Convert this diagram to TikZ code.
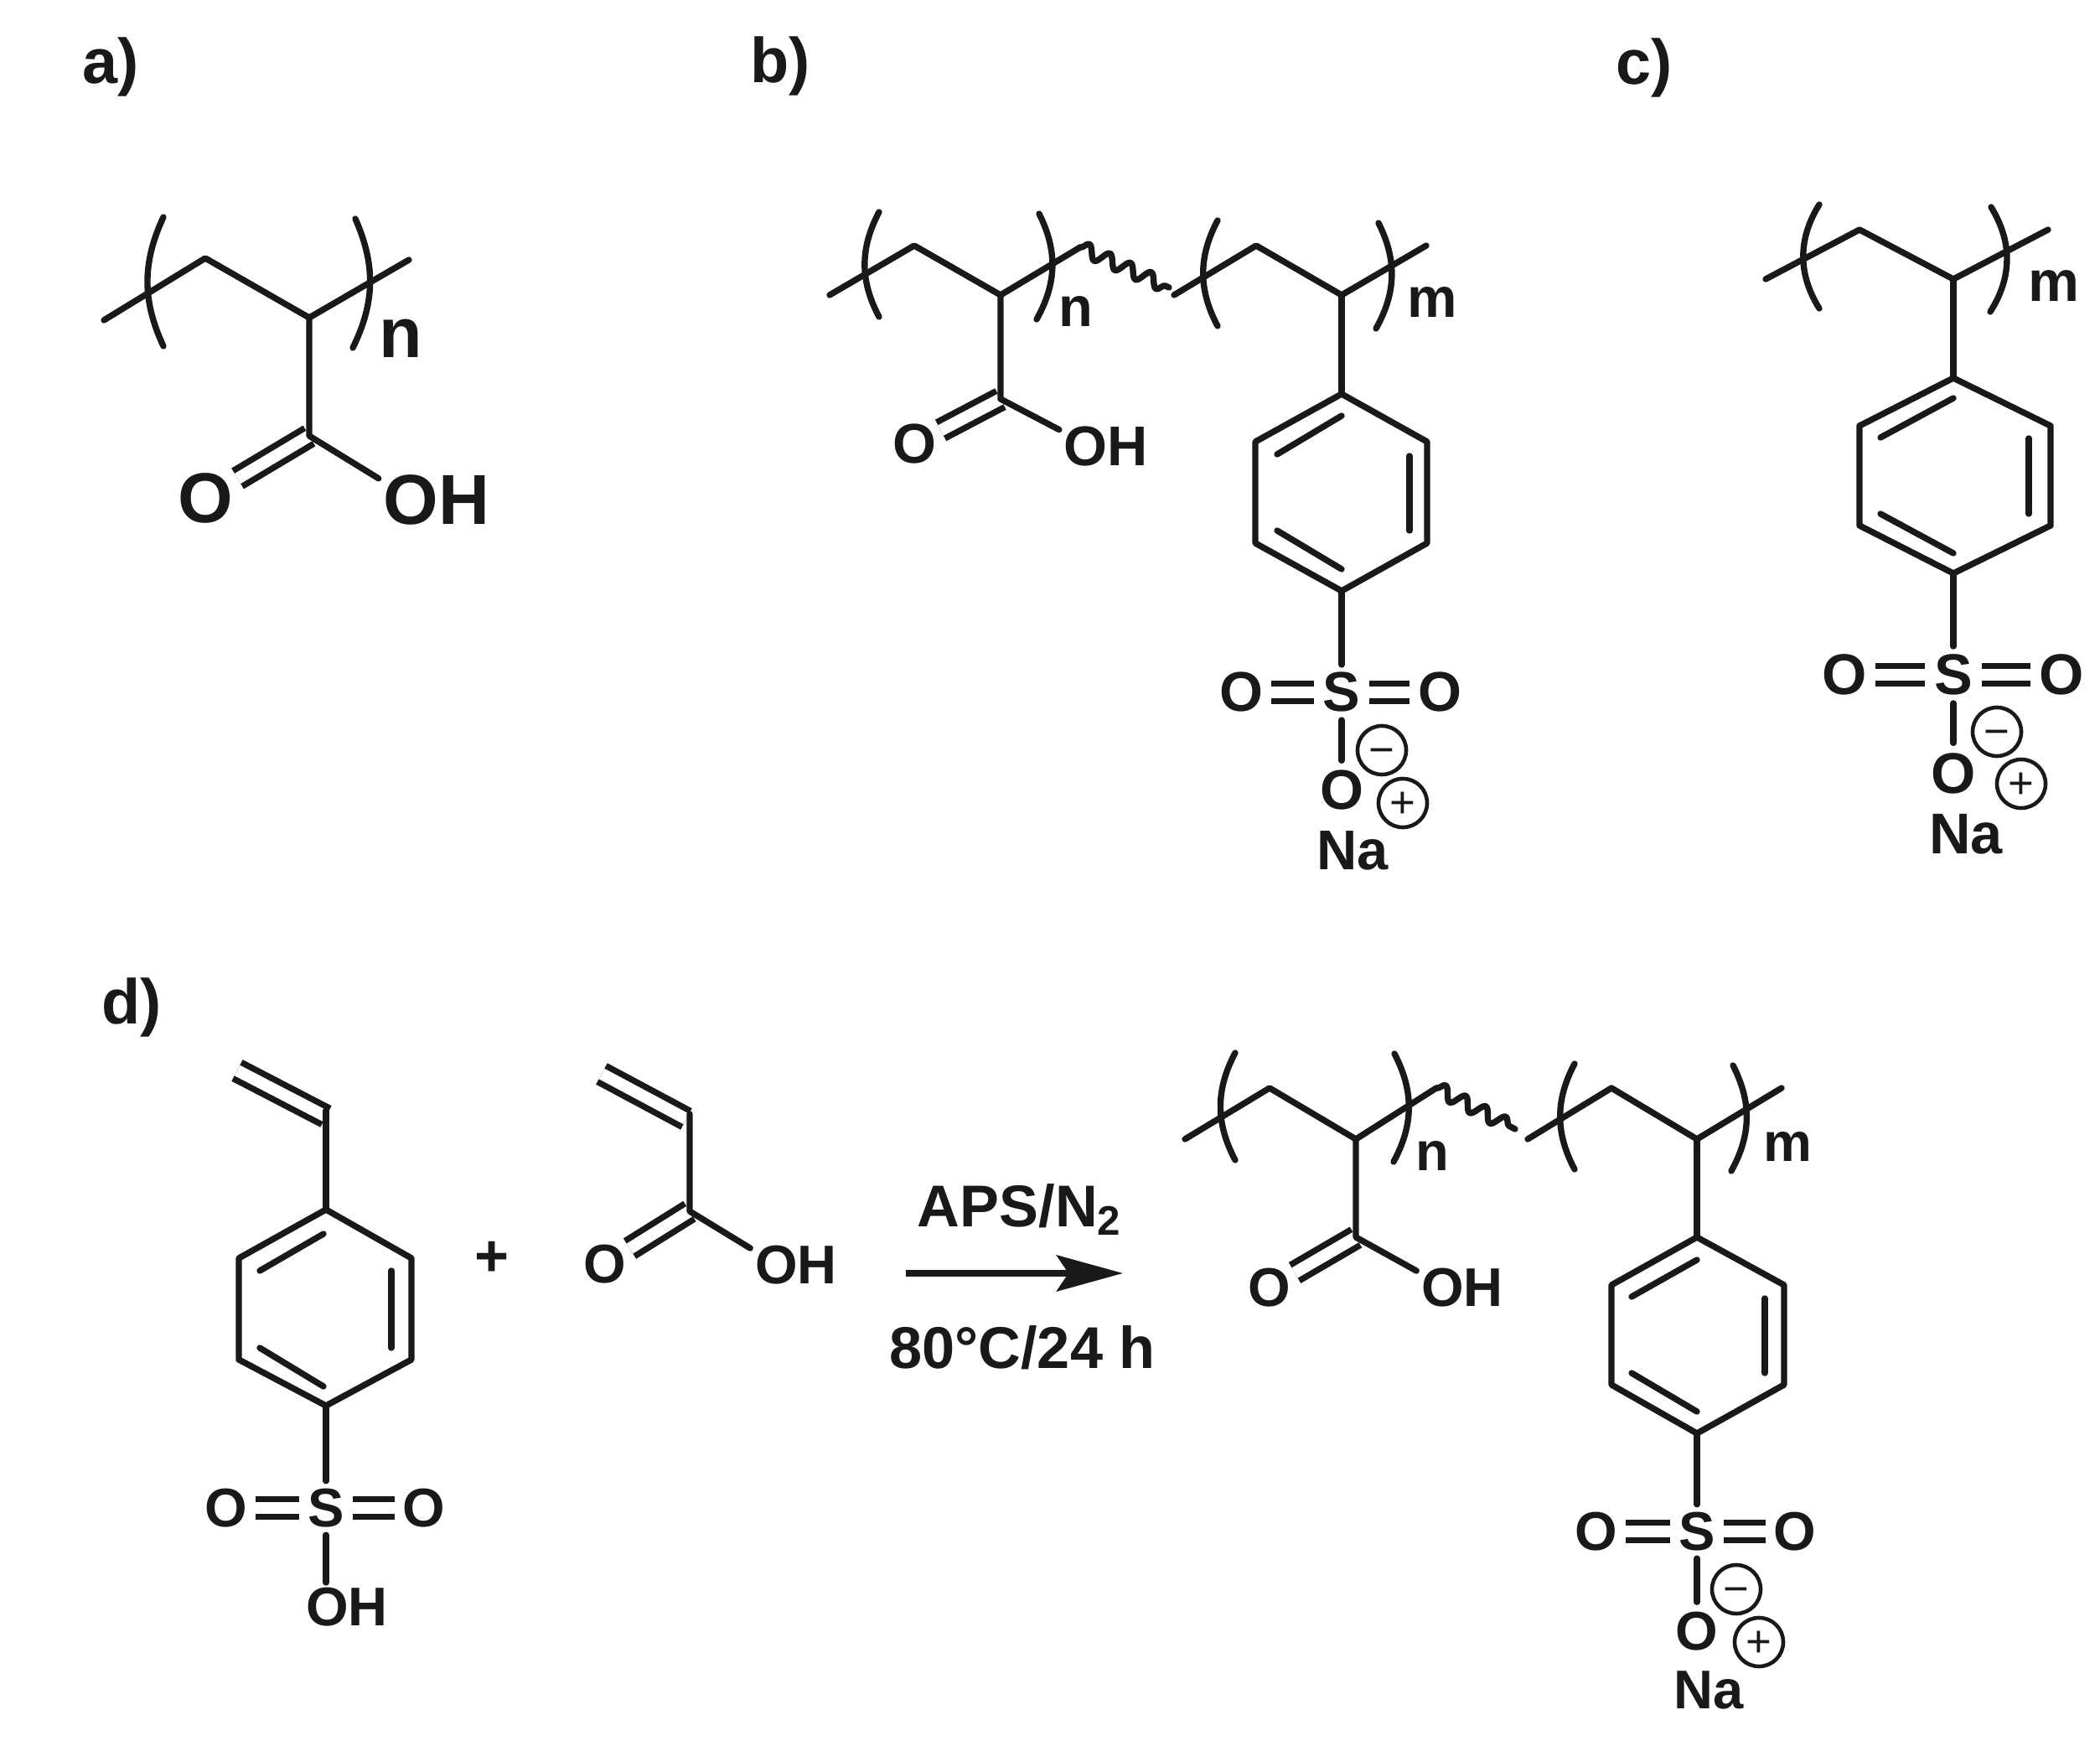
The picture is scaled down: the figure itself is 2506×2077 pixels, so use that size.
\documentclass[tikz,border=0pt]{standalone}
\usepackage{fontspec}
\setmainfont{Liberation Sans}
\usetikzlibrary{positioning,arrows.meta,decorations.pathmorphing}

\tikzset{
	bond/.style = {line width=2.1pt, line cap=round, line join=round, color=black!90},
	dbl/.style = {line width=2.1pt, double=white, double distance=4pt, color=black!90},
	arc/.style = {bond, line cap=round},
	wave/.style = {bond, decorate, decoration={snake, segment length=0.27cm, amplitude=0.08cm}},
	every node/.style = {inner sep=0pt, text=black!90, font=\bfseries},
	atom/.style = {shape=circle, font=\bfseries\fontsize{#1}{#1}\selectfont},
	group/.style = {shape=rectangle, inner sep=1.5pt, font=\bfseries\fontsize{#1}{#1}\selectfont},
	label/.style = {font=\bfseries\fontsize{21.5}{21.5}\selectfont},
	charge/.style = {shape=circle, draw=black!90, line width=1.3pt, minimum size=0.58cm,
		text height=10pt, text depth=0pt, font=\fontsize{15}{15}\selectfont}
}

\begin{document}
\begin{tikzpicture}[x=0.01cm, y=-0.01cm]
	\useasboundingbox (0,0) rectangle (2506,2077);

	\node[label] (la) at (132,80) {a)};
	\node[label] (lb) at (931,79) {b)};
	\node[label] (lc) at (1962,81) {c)};
	\node[label] (ld) at (157,1202) {d)};

	% a)
	\foreach \nm/\xx/\yy in {a1/124/382, a2/245/308, a3/369/379, a4/488/310, aC/369/520,
		aL1/195/259, aL2/195/413, aR1/424/261, aR2/421/415}
		\coordinate (\nm) at (\xx,\yy);
	\node[atom=24] (aO) at (245,594) {O};
	\node[group=24] (aOH) at (521,596) {OH};
	\node[group=24] (an) at (478,404) {n};
	\draw[dbl] (aC) -- (aO);
	\draw[bond] (a1) -- (a2) -- (a3) -- (a4);
	\draw[bond] (a3) -- (aC) -- (aOH.160);
	\draw[arc] (aL1) to[bend right=25] (aL2);
	\draw[arc] (aR1) to[bend left=25] (aR2);

	% b)
	\foreach \nm/\xx/\yy in {b1/990/352, b2/1091/293, b3/1194/352, b4/1289/295, b5/1395/343,
		b6/1401/352, b7/1499/293, b8/1601/352, b9/1702/293, bC/1194/476,
		bL1/1049/253, bL2/1049/378, bR1/1240/255, bR2/1237/381,
		bL3/1453/263, bL4/1453/389, bR3/1645/266, bR4/1642/392,
		bA/1601/470, bB/1703/527, bD/1703/648, bE/1601/705, bF/1498/648, bG/1498/527,
		bi1/1601/496, bi2/1524/542, bi3/1682/544, bi4/1682/633, bi5/1524/633, bi6/1601/679}
		\coordinate (\nm) at (\xx,\yy);
	\node[atom=19] (bO) at (1091,530) {O};
	\node[group=19] (bOH) at (1320,533) {OH};
	\node[group=19] (bn) at (1284,372) {n};
	\node[group=19] (bm) at (1709,361) {m};
	\node[atom=19] (bS) at (1601,826) {S};
	\node[atom=19] (bO1) at (1481,826) {O};
	\node[atom=19] (bO2) at (1718,826) {O};
	\node[atom=19] (bO3) at (1601,943) {O};
	\node[group=19] (bNa) at (1614,1015) {Na};
	\node[charge] (bMinus) at (1649,895) {−};
	\node[charge] (bPlus) at (1674,958) {+};
	\draw[dbl] (bC) -- (bO);
	\draw[dbl] (bS) -- (bO1);
	\draw[dbl] (bS) -- (bO2);
	\draw[bond] (b1) -- (b2) -- (b3) -- (b4);
	\draw[wave] (b4) -- (b5);
	\draw[bond] (b6) -- (b7) -- (b8) -- (b9);
	\draw[bond] (b3) -- (bC) -- (bOH.160);
	\draw[bond] (b8) -- (bA);
	\draw[bond] (bA) -- (bB) -- (bD) -- (bE) -- (bF) -- (bG) -- cycle;
	\draw[bond] (bi1) -- (bi2);
	\draw[bond] (bi3) -- (bi4);
	\draw[bond] (bi5) -- (bi6);
	\draw[bond] (bE) -- (bS);
	\draw[bond] (bS) -- (bO3);
	\foreach \p/\q in {bL1/bL2, bL3/bL4}
		\draw[arc] (\p) to[bend right=28] (\q);
	\foreach \p/\q in {bR1/bR2, bR3/bR4}
		\draw[arc] (\p) to[bend left=28] (\q);

	% c)
	\foreach \nm/\xx/\yy in {c1/2107/333, c2/2219/274, c3/2331/333, c4/2444/274,
		cL1/2171/244, cL2/2171/368, cR1/2376/247, cR2/2375/372,
		cA/2331/451, cB/2447/508, cD/2447/627, cE/2331/684, cF/2219/627, cG/2219/508,
		ci1/2331/475, ci2/2244/522, ci3/2421/523, ci4/2421/613, ci5/2244/613, ci6/2331/660}
		\coordinate (\nm) at (\xx,\yy);
	\node[group=19.5] (cm) at (2451,341) {m};
	\node[atom=19.5] (cS) at (2331,805) {S};
	\node[atom=19.5] (cO1) at (2201,805) {O};
	\node[atom=19.5] (cO2) at (2460,805) {O};
	\node[atom=19.5] (cO3) at (2331,923) {O};
	\node[group=19.5] (cNa) at (2346,995) {Na};
	\node[charge] (cMinus) at (2383,873) {−};
	\node[charge] (cPlus) at (2412,935) {+};
	\draw[dbl] (cS) -- (cO1);
	\draw[dbl] (cS) -- (cO2);
	\draw[bond] (c1) -- (c2) -- (c3) -- (c4);
	\draw[bond] (c3) -- (cA);
	\draw[bond] (cA) -- (cB) -- (cD) -- (cE) -- (cF) -- (cG) -- cycle;
	\draw[bond] (ci1) -- (ci2);
	\draw[bond] (ci3) -- (ci4);
	\draw[bond] (ci5) -- (ci6);
	\draw[bond] (cE) -- (cS);
	\draw[bond] (cS) -- (cO3);
	\draw[arc] (cL1) to[bend right=32] (cL2);
	\draw[arc] (cR1) to[bend left=32] (cR2);

	% d) monomers
	\foreach \nm/\xx/\yy in {v1/283/1277, v2/389/1332, v3/389/1325, vA/389/1443, vB/491/1501, vD/491/1622,
		vE/389/1677, vF/285/1622, vG/285/1501,
		vi1/386/1472, vi2/310/1516, vi3/467/1516, vi4/467/1608, vi5/310/1608, vi6/386/1654,
		w1/718/1281, w2/819/1335, w3/823/1329, wC/823/1445}
		\coordinate (\nm) at (\xx,\yy);
	\node[atom=18.5] (vS) at (389,1799) {S};
	\node[atom=18.5] (vO1) at (270,1799) {O};
	\node[atom=18.5] (vO2) at (506,1799) {O};
	\node[group=18.5] (vOH) at (414,1917) {OH};
	\node[group=20] (vplus) at (587,1502) {+};
	\node[atom=18.5] (wO) at (722,1508) {O};
	\node[group=18.5] (wOH) at (950,1509) {OH};
	\draw[dbl] (v1) -- (v2);
	\draw[dbl] (vS) -- (vO1);
	\draw[dbl] (vS) -- (vO2);
	\draw[bond] (v3) -- (vA);
	\draw[bond] (vA) -- (vB) -- (vD) -- (vE) -- (vF) -- (vG) -- cycle;
	\draw[bond] (vi1) -- (vi2);
	\draw[bond] (vi3) -- (vi4);
	\draw[bond] (vi5) -- (vi6);
	\draw[bond] (vE) -- (vS);
	\draw[bond] (vS) -- (vOH.north -| vS);
	\draw[dbl] (w1) -- (w2);
	\draw[dbl] (wC) -- (wO);
	\draw[bond] (w3) -- (wC) -- (wOH.160);

	% arrow
	\coordinate (arrS) at (1081,1519);
	\coordinate (arrE) at (1340,1519);
	\draw[line width=2.1pt, color=black!90, -{Stealth[length=0.79cm, width=0.43cm, inset=0.14cm]}] (arrS) -- (arrE);
	\node[group=20] (aps) at (1217,1443) {APS/N\textsubscript{2}};
	\node[group=20] (cond) at (1220,1608) {80°C/24 h};

	% d) product
	\foreach \nm/\xx/\yy in {p1/1414/1359, p2/1515/1298, p3/1618/1359, p4/1714/1298, p5/1808/1347,
		p6/1823/1359, p7/1923/1298, p8/2025/1359, p9/2126/1298, pC/1618/1476,
		pL1/1474/1256, pL2/1474/1384, pR1/1664/1257, pR2/1663/1386,
		pL3/1879/1269, pL4/1879/1395, pR3/2068/1271, pR4/2066/1397,
		pA/2025/1476, pB/2129/1533, pD/2129/1652, pE/2025/1710, pF/1923/1652, pG/1923/1533,
		pi1/2025/1503, pi2/1947/1547, pi3/2106/1549, pi4/2106/1638, pi5/1947/1638, pi6/2025/1684}
		\coordinate (\nm) at (\xx,\yy);
	\node[atom=18.5] (pO) at (1515,1536) {O};
	\node[group=18.5] (pOH) at (1745,1536) {OH};
	\node[group=18.5] (pn) at (1709,1379) {n};
	\node[group=18.5] (pm) at (2133,1368) {m};
	\node[atom=18.5] (pS) at (2025,1827) {S};
	\node[atom=18.5] (pO1) at (1905,1827) {O};
	\node[atom=18.5] (pO2) at (2142,1827) {O};
	\node[atom=18.5] (pO3) at (2025,1946) {O};
	\node[group=18.5] (pNa) at (2039,2016) {Na};
	\node[charge] (pMinus) at (2072,1896) {−};
	\node[charge] (pPlus) at (2099,1959) {+};
	\draw[dbl] (pC) -- (pO);
	\draw[dbl] (pS) -- (pO1);
	\draw[dbl] (pS) -- (pO2);
	\draw[bond] (p1) -- (p2) -- (p3) -- (p4);
	\draw[wave] (p4) -- (p5);
	\draw[bond] (p6) -- (p7) -- (p8) -- (p9);
	\draw[bond] (p3) -- (pC) -- (pOH.160);
	\draw[bond] (p8) -- (pA);
	\draw[bond] (pA) -- (pB) -- (pD) -- (pE) -- (pF) -- (pG) -- cycle;
	\draw[bond] (pi1) -- (pi2);
	\draw[bond] (pi3) -- (pi4);
	\draw[bond] (pi5) -- (pi6);
	\draw[bond] (pE) -- (pS);
	\draw[bond] (pS) -- (pO3);
	\foreach \p/\q in {pL1/pL2, pL3/pL4}
		\draw[arc] (\p) to[bend right=28] (\q);
	\foreach \p/\q in {pR1/pR2, pR3/pR4}
		\draw[arc] (\p) to[bend left=28] (\q);
\end{tikzpicture}
\end{document}
